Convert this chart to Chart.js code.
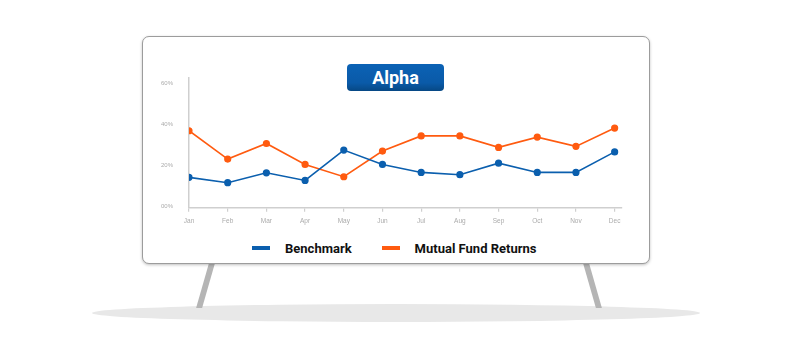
<!DOCTYPE html>
<html>
<head>
<meta charset="utf-8">
<script src="https://cdn.jsdelivr.net/npm/chart.js@4"></script>
<style>
  html, body { margin: 0; padding: 0; background: #fff; }
  #stage { position: relative; width: 792px; height: 340px; overflow: hidden; font-family: Roboto, "DejaVu Sans", sans-serif; }
  #floor { position: absolute; left: 92px; top: 304px; width: 608px; height: 18px; border-radius: 50%; background: #e8e8e8; }
  .leg { position: absolute; width: 6px; height: 45px; background: #b5b5b5; top: 263px; transform-origin: top; }
  #legL { left: 209px; transform: skewX(-16deg); }
  #legR { left: 583px; transform: skewX(16deg); }
  #board { position: absolute; left: 142px; top: 36px; width: 506px; height: 226px; border: 1.5px solid #9c9c9c; border-radius: 7px; background: #fff; box-shadow: 0 1px 3px rgba(0,0,0,0.25); }
  #title { position: absolute; left: 347px; top: 64px; width: 97px; height: 27px; border-radius: 4px; background: linear-gradient(#0b62b5, #0a5aa8 70%, #064884); color: #fff; font-weight: 700; font-size: 18px; text-align: center; line-height: 27px; }
  #wrap { position: absolute; left: 150px; top: 66px; width: 480px; height: 166px; }
  #legend { position: absolute; left: 252px; top: 239px; height: 18px; display: flex; align-items: center; font-weight: 700; font-size: 13px; color: #111; }
  .item { display: flex; align-items: center; }
  .swatch { width: 18px; height: 4px; margin-right: 15px; }
</style>
</head>
<body>
<div id="stage">
  <div id="floor"></div>
  <div class="leg" id="legL"></div>
  <div class="leg" id="legR"></div>
  <div id="board"></div>
  <div id="wrap"><canvas id="c-alpha"></canvas></div>
  <div id="title">Alpha</div>
  <div id="legend"></div>
</div>
<script>
// ── DATA ───────────────────────────────────────────────────────────────────
const MONTHS       = ['Jan', 'Feb', 'Mar', 'Apr', 'May', 'Jun', 'Jul', 'Aug', 'Sep', 'Oct', 'Nov', 'Dec'];
const BENCHMARK    = [14.3, 11.7, 16.5, 12.8, 27.6, 20.6, 16.7, 15.6, 21.2, 16.7, 16.7, 26.7];
const FUND_RETURNS = [37.0, 23.2, 30.8, 20.6, 14.6, 27.1, 34.5, 34.5, 28.9, 33.9, 29.4, 38.3];
const Y_TICKS      = [0, 20, 40, 60];
const Y_LABELS     = ['00%', '20%', '40%', '60%'];
const SERIES_NAMES = ['Benchmark', 'Mutual Fund Returns'];

const COLORS = {
  blue:   '#0b5fae',
  orange: '#ff5b10',
  axis:   '#cfcfcf',
  tick:   '#ababab',
};

// ── LEGEND (html, wide gap between swatch and text) ───────────────────────
const legendEl = document.getElementById('legend');
[COLORS.blue, COLORS.orange].forEach((c, i) => {
  const it = document.createElement('div');
  it.className = 'item';
  it.style.marginRight = i === 0 ? '30px' : '0';
  it.innerHTML = `<span class="swatch" style="background:${c}"></span><span>${SERIES_NAMES[i]}</span>`;
  legendEl.appendChild(it);
});

// ── CHART ──────────────────────────────────────────────────────────────────
const toPts = arr => arr.map((v, i) => ({ x: i, y: v }));

new Chart(document.getElementById('c-alpha'), {
  type: 'line',
  data: {
    datasets: [
      {
        label: SERIES_NAMES[0],
        data: toPts(BENCHMARK),
        borderColor: COLORS.blue,
        backgroundColor: COLORS.blue,
        borderWidth: 1.6,
        pointRadius: 2.8,
        tension: 0,
      },
      {
        label: SERIES_NAMES[1],
        data: toPts(FUND_RETURNS),
        borderColor: COLORS.orange,
        backgroundColor: COLORS.orange,
        borderWidth: 1.6,
        pointRadius: 2.8,
        tension: 0,
      },
    ],
  },
  options: {
    responsive: true,
    maintainAspectRatio: false,
    animation: false,
    layout: { padding: { top: 0, right: 8, left: 0, bottom: 0 } },
    plugins: { legend: { display: false }, tooltip: { enabled: false } },
    scales: {
      x: {
        type: 'linear',
        min: 0, max: 11.19,
        afterBuildTicks: s => { s.ticks = MONTHS.map((m, i) => ({ value: i })); },
        afterFit: s => { s.height = 24.3; },
        ticks: { callback: v => MONTHS[v], color: COLORS.tick, font: { size: 6.5 }, padding: 6, maxRotation: 0, autoSkip: false },
        grid: { drawOnChartArea: false, drawTicks: true, tickLength: 4, color: COLORS.axis, lineWidth: 1.2 },
        border: { color: COLORS.axis, width: 1.5 },
      },
      y: {
        min: -0.49, max: 62.9,
        afterBuildTicks: s => { s.ticks = Y_TICKS.map(v => ({ value: v })); },
        afterFit: s => { s.width = 39; },
        ticks: { callback: v => Y_LABELS[Y_TICKS.indexOf(v)], color: COLORS.tick, font: { size: 6 }, padding: 8 },
        grid: { display: false },
        border: { color: COLORS.axis, width: 1.5 },
      },
    },
  },
});
</script>
</body>
</html>
